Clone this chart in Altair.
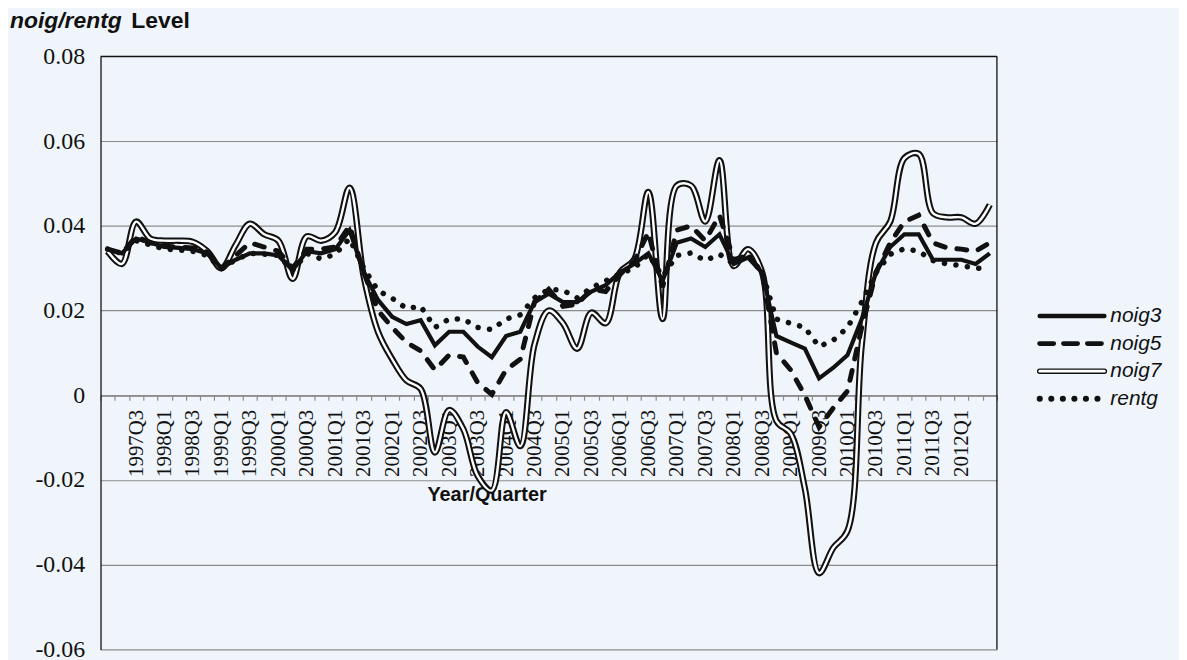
import json
import altair as alt
import pandas as pd

quarters = [
    "1997Q1", "1997Q2", "1997Q3", "1997Q4", "1998Q1", "1998Q2", "1998Q3", "1998Q4",
    "1999Q1", "1999Q2", "1999Q3", "1999Q4", "2000Q1", "2000Q2", "2000Q3", "2000Q4",
    "2001Q1", "2001Q2", "2001Q3", "2001Q4", "2002Q1", "2002Q2", "2002Q3", "2002Q4",
    "2003Q1", "2003Q2", "2003Q3", "2003Q4", "2004Q1", "2004Q2", "2004Q3", "2004Q4",
    "2005Q1", "2005Q2", "2005Q3", "2005Q4", "2006Q1", "2006Q2", "2006Q3", "2006Q4",
    "2007Q1", "2007Q2", "2007Q3", "2007Q4", "2008Q1", "2008Q2", "2008Q3", "2008Q4",
    "2009Q1", "2009Q2", "2009Q3", "2009Q4", "2010Q1", "2010Q2", "2010Q3", "2010Q4",
    "2011Q1", "2011Q2", "2011Q3", "2011Q4", "2012Q1", "2012Q2", "2012Q3",
]

tick_labels = [
    "1997Q3", "1998Q1", "1998Q3", "1999Q1", "1999Q3", "2000Q1", "2000Q3", "2001Q1",
    "2001Q3", "2002Q1", "2002Q3", "2003Q1", "2003Q3", "2004Q1", "2004Q3", "2005Q1",
    "2005Q3", "2006Q1", "2006Q3", "2007Q1", "2007Q3", "2008Q1", "2008Q3", "2009Q1",
    "2009Q3", "2010Q1", "2010Q3", "2011Q1", "2011Q3", "2012Q1",
]

noig3 = [
    0.0345, 0.0335, 0.0370, 0.0360, 0.0350, 0.0348, 0.0345, 0.0335,
    0.0300, 0.0320, 0.0335, 0.0335, 0.0330, 0.0295, 0.0340, 0.0335,
    0.0345, 0.0390, 0.0290, 0.0225, 0.0185, 0.0168, 0.0177, 0.0118,
    0.0150, 0.0150, 0.0115, 0.0090, 0.0140, 0.0150, 0.0220, 0.0240,
    0.0220, 0.0220, 0.0245, 0.0260, 0.0290, 0.0310, 0.0335, 0.0270,
    0.0360, 0.0370, 0.0350, 0.0380, 0.0310, 0.0325, 0.0290, 0.0140,
    0.0125, 0.0110, 0.0040, 0.0065, 0.0095, 0.0180, 0.0290, 0.0350,
    0.0380, 0.0380, 0.0320, 0.0320, 0.0320, 0.0310, 0.0335,
]

noig5 = [
    0.0345, 0.0335, 0.0375, 0.0360, 0.0352, 0.0350, 0.0348, 0.0338,
    0.0300, 0.0330, 0.0360, 0.0350, 0.0340, 0.0300, 0.0345, 0.0345,
    0.0350, 0.0400, 0.0290, 0.0200, 0.0160, 0.0125, 0.0105, 0.0060,
    0.0095, 0.0090, 0.0030, 0.0002, 0.0060, 0.0085, 0.0220, 0.0250,
    0.0210, 0.0215, 0.0250, 0.0245, 0.0285, 0.0315, 0.0385, 0.0255,
    0.0390, 0.0400, 0.0365, 0.0425, 0.0320, 0.0330, 0.0290, 0.0100,
    0.0060, 0.0000, -0.0075, -0.0030, 0.0010, 0.0160, 0.0290, 0.0360,
    0.0410, 0.0425, 0.0360, 0.0348, 0.0345, 0.0340, 0.0360,
]

noig7 = [
    0.0340, 0.0310, 0.0410, 0.0370, 0.0365, 0.0365, 0.0362, 0.0340,
    0.0300, 0.0355, 0.0405, 0.0380, 0.0365, 0.0275, 0.0375, 0.0365,
    0.0385, 0.0490, 0.0280, 0.0150, 0.0085, 0.0035, 0.0015, -0.0135,
    -0.0035, -0.0080, -0.0190, -0.0225, -0.0040, -0.0120, 0.0120, 0.0200,
    0.0170, 0.0110, 0.0195, 0.0170, 0.0290, 0.0320, 0.0480, 0.0180,
    0.0495, 0.0495, 0.0410, 0.0555, 0.0305, 0.0345, 0.0290, -0.0060,
    -0.0090, -0.0220, -0.0420, -0.0360, -0.0320, 0.0120, 0.0360, 0.0410,
    0.0560, 0.0570, 0.0430, 0.0420, 0.0420, 0.0405, 0.0450,
]

rentg = [
    0.0345, 0.0335, 0.0365, 0.0355, 0.0345, 0.0343, 0.0340, 0.0330,
    0.0300, 0.0320, 0.0335, 0.0333, 0.0330, 0.0295, 0.0335, 0.0322,
    0.0333, 0.0370, 0.0300, 0.0247, 0.0229, 0.0205, 0.0210, 0.0160,
    0.0180, 0.0180, 0.0160, 0.0155, 0.0180, 0.0190, 0.0230, 0.0250,
    0.0248, 0.0230, 0.0254, 0.0270, 0.0287, 0.0300, 0.0333, 0.0280,
    0.0330, 0.0336, 0.0318, 0.0333, 0.0310, 0.0330, 0.0290, 0.0180,
    0.0170, 0.0160, 0.0115, 0.0130, 0.0160, 0.0220, 0.0290, 0.0333,
    0.0346, 0.0340, 0.0318, 0.0310, 0.0306, 0.0300, 0.0300,
]

series_names = ["noig3", "noig5", "noig7", "rentg"]
y_ticks = [-0.06, -0.04, -0.02, 0.0, 0.02, 0.04, 0.06, 0.08]
title_parts = ["noig/rentg", "Level"]
x_title = "Year/Quarter"

rows = []
for name, vals in zip(series_names, [noig3, noig5, noig7, rentg]):
    for q, v in zip(quarters, vals):
        rows.append({"quarter": q, "series": name, "value": v})
df = pd.DataFrame(rows)

W, H = 901, 596
BG = "#eff5fb"
INK = "#111111"
GRID = "#8c8c8c"
SERIF = "'Liberation Serif', 'Times New Roman', Times, serif"
SANS = "'Liberation Sans', Arial, Helvetica, sans-serif"

x_label_expr = "indexof(" + json.dumps(tick_labels) + ", datum.value) >= 0 ? datum.value : ''"
y_label_expr = ("datum.value == 0 ? '0' : (datum.value < 0 ? '-' + format(-datum.value, '.2f') "
                ": format(datum.value, '.2f'))")

x_enc = alt.X(
    "quarter:O",
    sort=quarters,
    scale=alt.Scale(type="band", domain=quarters, paddingInner=0, paddingOuter=0),
    axis=alt.Axis(
        title=x_title, titleFont=SANS, titleFontWeight="bold", titleFontSize=20,
        titleColor=INK, titleX=388, titleY=100, titleAlign="center", titleBaseline="middle",
        labelAngle=270, labelFont=SERIF, labelFontSize=21, labelColor=INK,
        labelPadding=9, labelOverlap=False, labelExpr=x_label_expr,
        tickBand="extent", tickSize=5, tickColor=GRID, tickWidth=1.2,
        domainColor=GRID, domainWidth=1.5, offset=-H * 0.06 / 0.14, grid=False,
    ),
)

y_enc = alt.Y(
    "value:Q",
    scale=alt.Scale(domain=[-0.06, 0.08], nice=False, zero=False),
    axis=alt.Axis(
        values=y_ticks, labelExpr=y_label_expr, labelFont=SERIF, labelFontSize=24,
        labelColor=INK, ticks=False, labelPadding=16, domainColor=INK, domainWidth=1.3,
        grid=True, gridColor=GRID, gridWidth=1.2, title=None,
    ),
)

base = alt.Chart(df)

def series(name):
    return base.transform_filter(alt.datum.series == name)

noig7_outer = series("noig7").mark_line(interpolate="catmull-rom", color=INK, strokeWidth=6.5).encode(x=x_enc, y=y_enc)
noig7_inner = series("noig7").mark_line(interpolate="catmull-rom", color="#ffffff", strokeWidth=2.4).encode(x=x_enc, y=y_enc)
rentg_line = series("rentg").mark_line(color=INK, strokeWidth=5.5, strokeDash=[0.1, 11.5], strokeCap="round").encode(x=x_enc, y=y_enc)
noig5_line = series("noig5").mark_line(color=INK, strokeWidth=5, strokeDash=[10, 12], strokeCap="round").encode(x=x_enc, y=y_enc)
noig3_line = series("noig3").mark_line(color=INK, strokeWidth=4.2).encode(x=x_enc, y=y_enc)

frame_df = pd.DataFrame({"k": [0]})
top_border = alt.Chart(frame_df).mark_rule(color=INK, strokeWidth=1.3).encode(
    x=alt.value(0), x2=alt.value(W), y=alt.value(0))
right_border = alt.Chart(frame_df).mark_rule(color=INK, strokeWidth=1.3).encode(
    x=alt.value(W), y=alt.value(0), y2=alt.value(H))

title_df = pd.DataFrame({"t": title_parts})
title_a = alt.Chart(title_df).transform_filter(alt.datum.t == title_parts[0]).mark_text(
    align="left", baseline="middle", font=SANS, fontSize=23, fontWeight="bold",
    fontStyle="italic", color=INK).encode(text="t:N", x=alt.value(-91), y=alt.value(-36))
title_b = alt.Chart(title_df).transform_filter(alt.datum.t == title_parts[1]).mark_text(
    align="left", baseline="middle", font=SANS, fontSize=23, fontWeight="bold",
    color=INK).encode(text="t:N", x=alt.value(31), y=alt.value(-36))

main = alt.layer(noig7_outer, noig7_inner, rentg_line, noig5_line, noig3_line,
                 top_border, right_border, title_a, title_b)

# legend
leg_df = pd.DataFrame({"series": series_names})
leg_y = alt.Y("series:N", scale=alt.Scale(type="point", domain=series_names, range=[261, 344], padding=0), axis=None)
leg_keys = alt.Chart(leg_df).mark_rule(color=INK, strokeCap="round").encode(
    x=alt.value(944), x2=alt.value(1009), y=leg_y,
    strokeDash=alt.StrokeDash("series:N", scale=alt.Scale(domain=series_names,
                              range=[[1, 0], [14, 10], [1, 0], [0.1, 11.5]]), legend=None),
    strokeWidth=alt.StrokeWidth("series:N", scale=alt.Scale(domain=series_names,
                                range=[4.5, 6, 7, 5.5]), legend=None),
)
leg_inner = alt.Chart(leg_df).transform_filter(alt.datum.series == "noig7").mark_rule(
    color="#ffffff", strokeWidth=2.6, strokeCap="round").encode(
    x=alt.value(944), x2=alt.value(1009), y=leg_y)
leg_text = alt.Chart(leg_df).mark_text(align="left", baseline="middle", font=SANS, fontSize=21,
                                       fontStyle="italic", color=INK).encode(
    x=alt.value(1015), y=leg_y, text="series:N")
legend = alt.layer(leg_keys, leg_inner, leg_text)

chart = alt.layer(main, legend).resolve_scale(y="independent").properties(
    width=W, height=H,
    padding={"left": 93, "top": 47, "right": 183, "bottom": 10},
    autosize=alt.AutoSizeParams(type="none"),
    background=BG,
).configure_view(stroke=None)

chart.save("out.html", embed_options={"renderer": "svg", "actions": False})
